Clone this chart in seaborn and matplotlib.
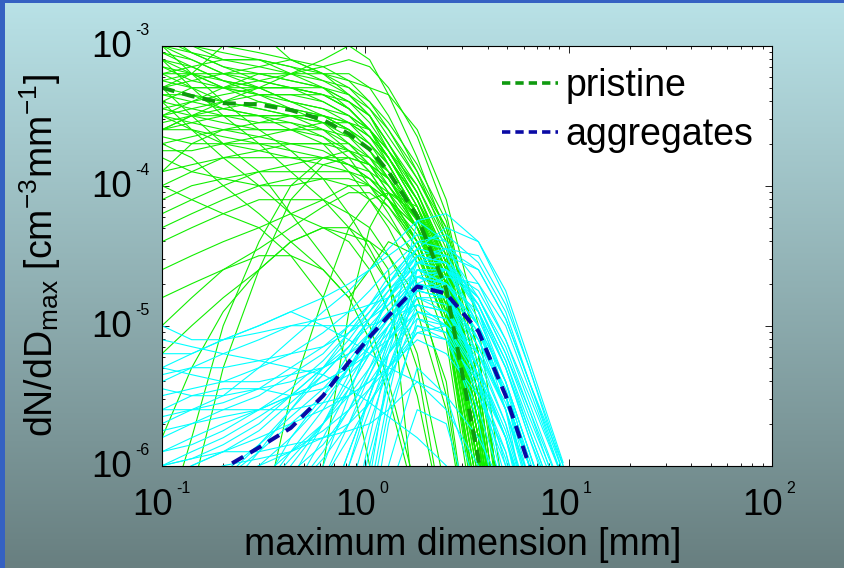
import numpy as np
import pandas as pd
import seaborn as sns
import matplotlib.pyplot as plt
from matplotlib.lines import Line2D
from matplotlib.patches import Rectangle

# bin centres of maximum dimension [mm]
dmax = [0.1, 0.14, 0.2, 0.3, 0.43, 0.62, 0.83, 1.05, 1.3, 1.8, 2.5, 3.6, 4.9, 6.4, 9.4]

# log10(dN/dDmax) of single spectra (below -6 is off the axes)
pristine_log = [
    [-3.0, -3.1, -3.2, -3.25, -3.3, -3.35, -3.45, -3.6, -3.8, -4.1, -4.5, -5.6, -7, -9, -9],
    [-3.1, -3.15, -3.25, -3.3, -3.3, -3.4, -3.5, -3.65, -3.85, -4.2, -4.7, -5.9, -7.5, -9, -9],
    [-2.9, -3.05, -3.15, -3.2, -3.25, -3.3, -3.4, -3.5, -3.7, -4.0, -4.4, -5.4, -6.8, -9, -9],
    [-3.2, -3.3, -3.4, -3.45, -3.5, -3.55, -3.65, -3.8, -4.0, -4.3, -4.9, -6.2, -8, -9, -9],
    [-3.4, -3.45, -3.5, -3.55, -3.55, -3.6, -3.7, -3.85, -4.05, -4.4, -4.95, -6.4, -8, -9, -9],
    [-3.6, -3.6, -3.65, -3.7, -3.7, -3.75, -3.85, -3.95, -4.1, -4.35, -4.8, -6.0, -7.5, -9, -9],
    [-3.3, -3.25, -3.2, -3.15, -3.1, -3.15, -3.25, -3.4, -3.6, -3.95, -4.3, -5.2, -6.5, -9, -9],
    [-3.0, -2.95, -3.0, -3.05, -3.1, -3.2, -3.35, -3.5, -3.75, -4.1, -4.6, -5.8, -7.2, -9, -9],
    [-3.5, -3.6, -3.7, -3.75, -3.8, -3.85, -3.9, -4.0, -4.15, -4.45, -5.0, -6.5, -8, -9, -9],
    [-3.8, -3.9, -3.95, -4.0, -4.0, -3.95, -3.95, -4.0, -4.1, -4.3, -4.7, -5.7, -7, -9, -9],
    [-4.2, -4.1, -4.0, -3.9, -3.85, -3.8, -3.8, -3.85, -3.95, -4.2, -4.6, -5.6, -7, -9, -9],
    [-4.6, -4.5, -4.4, -4.3, -4.2, -4.1, -4.0, -4.0, -4.1, -4.3, -4.7, -5.8, -7.2, -9, -9],
    [-5.0, -4.8, -4.6, -4.45, -4.3, -4.15, -4.05, -4.05, -4.15, -4.4, -4.85, -6.0, -7.5, -9, -9],
    [-3.1, -3.3, -3.5, -3.7, -3.9, -4.1, -4.3, -4.5, -4.7, -5.2, -6.2, -8, -9, -9, -9],
    [-3.3, -3.5, -3.7, -3.9, -4.2, -4.5, -4.75, -5.0, -5.4, -6.2, -8, -9, -9, -9, -9],
    [-3.0, -3.2, -3.4, -3.6, -3.75, -3.95, -4.2, -4.45, -4.7, -5.3, -6.5, -9, -9, -9, -9],
    [-3.7, -3.8, -4.0, -4.2, -4.4, -4.6, -4.8, -4.6, -4.4, -4.5, -5.0, -6.3, -8, -9, -9],
    [-6.5, -5.8, -5.0, -4.4, -4.0, -3.8, -3.75, -3.8, -3.9, -4.2, -4.65, -5.8, -7.2, -9, -9],
    [-7.0, -6.2, -5.3, -4.6, -4.1, -3.85, -3.8, -3.85, -3.95, -4.25, -4.7, -5.9, -7.5, -9, -9],
    [-5.2, -5.0, -4.8, -4.6, -4.4, -4.3, -4.4, -4.6, -4.9, -5.5, -6.5, -8, -9, -9, -9],
    [-4.8, -4.7, -4.6, -4.5, -4.5, -4.6, -4.8, -5.1, -5.5, -6.3, -8, -9, -9, -9, -9],
    [-4.0, -4.1, -4.2, -4.3, -4.5, -4.8, -5.3, -6.0, -7, -8, -9, -9, -9, -9, -9],
    [-8, -8, -7, -6.5, -5.5, -4.8, -4.3, -4.1, -4.05, -4.2, -4.6, -5.6, -7, -9, -9],
    [-9, -9, -9, -8, -7, -6.0, -4.9, -4.3, -4.05, -4.15, -4.55, -5.5, -7, -9, -9],
    [-3.5, -3.45, -3.4, -3.35, -3.35, -3.35, -3.4, -3.5, -3.7, -4.05, -4.5, -5.5, -7, -9, -9],
    [-3.2, -3.2, -3.2, -3.2, -3.25, -3.3, -3.4, -3.55, -3.75, -4.1, -4.55, -5.7, -7.2, -9, -9],
    [-2.95, -3.0, -3.1, -3.1, -3.15, -3.2, -3.3, -3.45, -3.65, -3.95, -4.35, -5.3, -6.6, -9, -9],
    [-4.4, -4.3, -4.2, -4.1, -4.1, -4.1, -4.2, -4.3, -4.5, -4.9, -5.6, -7, -9, -9, -9],
    [-3.4, -3.6, -3.8, -4.0, -4.2, -4.3, -4.35, -4.4, -4.5, -4.8, -5.4, -7, -9, -9, -9],
    [-3.9, -3.7, -3.6, -3.55, -3.5, -3.5, -3.55, -3.65, -3.8, -4.1, -4.55, -5.6, -7, -9, -9],
    [-5.8, -5.3, -4.9, -4.6, -4.4, -4.3, -4.3, -4.4, -4.6, -6.5, -8, -9, -9, -9, -9],
    [-3.6, -3.5, -3.5, -3.5, -3.6, -3.7, -3.9, -4.1, -4.3, -4.7, -5.5, -7, -9, -9, -9],
    [-3.3, -3.2, -3.0, -2.9, -3.1, -3.2, -3.2, -3.3, -3.5, -3.9, -4.3, -5.2, -6.5, -9, -9],
    [-3.4, -3.3, -3.3, -3.2, -3.2, -3.2, -3.25, -3.3, -3.35, -3.6, -4.1, -5.0, -6.3, -9, -9],
    [-3.15, -3.2, -3.3, -3.35, -3.35, -3.4, -3.5, -3.6, -3.8, -4.15, -4.65, -5.8, -7.2, -9, -9],
    [-3.45, -3.4, -3.45, -3.5, -3.5, -3.55, -3.6, -3.75, -3.95, -4.25, -4.7, -5.9, -7.4, -9, -9],
    [-3.05, -3.15, -3.25, -3.35, -3.45, -3.55, -3.7, -3.85, -4.05, -4.4, -4.95, -6.3, -8, -9, -9],
    [-3.7, -3.65, -3.6, -3.6, -3.6, -3.65, -3.75, -3.9, -4.1, -4.4, -4.85, -6.1, -7.6, -9, -9],
    [-4.0, -3.9, -3.8, -3.75, -3.7, -3.7, -3.75, -3.85, -4.0, -4.3, -4.75, -5.9, -7.3, -9, -9],
    [-2.9, -3.0, -3.05, -3.1, -3.2, -3.3, -3.45, -3.6, -3.85, -4.2, -4.7, -6.0, -7.6, -9, -9],
    [-3.25, -3.3, -3.3, -3.35, -3.4, -3.45, -3.55, -3.7, -3.9, -4.25, -4.8, -6.0, -7.5, -9, -9],
    [-3.35, -3.4, -3.35, -3.3, -3.3, -3.35, -3.45, -3.6, -3.8, -4.15, -4.6, -5.7, -7.2, -9, -9],
    [-3.55, -3.5, -3.45, -3.4, -3.45, -3.5, -3.6, -3.7, -3.85, -4.2, -4.75, -6.1, -7.8, -9, -9],
    [-3.1, -3.2, -3.3, -3.4, -3.45, -3.5, -3.6, -3.75, -3.95, -4.3, -4.85, -6.2, -8, -9, -9],
    [-3.0, -3.05, -3.15, -3.25, -3.3, -3.35, -3.45, -3.6, -3.8, -4.15, -4.7, -6.0, -7.5, -9, -9],
    [-3.45, -3.5, -3.55, -3.6, -3.6, -3.6, -3.65, -3.75, -3.9, -4.2, -4.6, -5.7, -7.1, -9, -9],
    [-3.65, -3.7, -3.7, -3.65, -3.6, -3.55, -3.55, -3.65, -3.8, -4.1, -4.55, -5.6, -7.0, -9, -9],
    [-3.2, -3.15, -3.1, -3.1, -3.15, -3.25, -3.35, -3.5, -3.7, -4.05, -4.55, -5.7, -7.1, -9, -9],
    [-3.05, -3.1, -3.2, -3.3, -3.4, -3.45, -3.5, -3.6, -3.75, -4.05, -4.5, -5.5, -6.9, -9, -9],
    [-3.35, -3.35, -3.4, -3.45, -3.5, -3.6, -3.75, -3.9, -4.1, -4.45, -5.0, -6.4, -8, -9, -9],
    [-3.75, -3.75, -3.7, -3.7, -3.75, -3.8, -3.85, -3.9, -4.0, -4.25, -4.65, -5.8, -7.3, -9, -9],
    [-3.9, -3.85, -3.8, -3.8, -3.8, -3.8, -3.85, -3.95, -4.1, -4.4, -4.9, -6.2, -7.8, -9, -9],
    [-3.15, -3.25, -3.3, -3.3, -3.3, -3.3, -3.35, -3.45, -3.6, -3.9, -4.4, -5.4, -6.8, -9, -9],
    [-3.3, -3.35, -3.45, -3.5, -3.55, -3.65, -3.8, -4.0, -4.2, -4.55, -5.1, -6.6, -8, -9, -9],
    [-2.95, -3.05, -3.1, -3.15, -3.2, -3.25, -3.3, -3.4, -3.55, -3.85, -4.25, -5.2, -6.5, -9, -9],
    [-3.5, -3.55, -3.6, -3.65, -3.7, -3.7, -3.7, -3.8, -3.95, -4.3, -4.8, -6.0, -7.5, -9, -9],
    [-4.1, -4.0, -3.95, -3.9, -3.9, -3.9, -3.9, -3.95, -4.05, -4.3, -4.7, -5.8, -7.2, -9, -9],
    [-3.25, -3.2, -3.25, -3.3, -3.4, -3.5, -3.6, -3.7, -3.85, -4.2, -4.7, -5.9, -7.4, -9, -9],
    [-4.3, -4.2, -4.1, -4.0, -3.95, -3.95, -4.0, -4.1, -4.25, -4.5, -4.9, -6.0, -7.5, -9, -9],
    [-3.6, -3.55, -3.5, -3.5, -3.5, -3.5, -3.55, -3.6, -3.75, -4.0, -4.45, -5.5, -6.9, -9, -9],
    [-3.5, -3.4, -3.3, -3.25, -3.2, -3.15, -3.1, -3.15, -3.3, -3.65, -4.2, -5.2, -6.6, -9, -9],
    [-3.6, -3.5, -3.4, -3.3, -3.2, -3.1, -3.0, -3.1, -3.35, -3.8, -4.35, -5.4, -6.8, -9, -9],
]

aggregates_log = [
    [-5.2, -5.2, -5.1, -5.0, -4.9, -4.8, -4.7, -4.6, -4.5, -4.35, -4.4, -4.7, -5.1, -5.5, -6.1],
    [-5.5, -5.45, -5.4, -5.3, -5.2, -5.05, -4.9, -4.75, -4.6, -4.4, -4.45, -4.8, -5.2, -5.6, -6.2],
    [-5.8, -5.7, -5.6, -5.5, -5.35, -5.2, -5.0, -4.85, -4.7, -4.5, -4.55, -4.9, -5.3, -5.8, -6.4],
    [-6.0, -5.9, -5.8, -5.65, -5.5, -5.3, -5.15, -5.0, -4.85, -4.6, -4.6, -4.85, -5.25, -5.7, -6.3],
    [-5.3, -5.35, -5.4, -5.4, -5.35, -5.3, -5.2, -5.1, -4.95, -4.75, -4.8, -5.1, -5.5, -6.0, -6.8],
    [-5.6, -5.5, -5.45, -5.45, -5.5, -5.45, -5.35, -5.2, -5.05, -4.8, -4.9, -5.2, -5.6, -6.1, -7],
    [-6.5, -6.3, -6.1, -5.9, -5.7, -5.5, -5.3, -5.1, -4.9, -4.65, -4.7, -5.0, -5.4, -5.9, -6.6],
    [-7, -7, -6.8, -6.5, -6.2, -5.9, -5.6, -5.3, -5.0, -4.7, -4.8, -5.2, -5.7, -6.3, -7.2],
    [-8, -8, -8, -7.5, -7, -6.5, -6.0, -5.6, -5.2, -4.8, -4.85, -5.3, -5.8, -6.5, -7.5],
    [-8, -8, -8, -8, -7.5, -7, -6.5, -5.9, -5.4, -4.9, -5.0, -5.5, -6.0, -6.8, -8],
    [-8, -8, -8, -8, -8, -7.5, -7, -6.3, -5.6, -5.0, -5.1, -5.6, -6.2, -7, -8],
    [-6.2, -6.0, -5.9, -5.8, -5.7, -5.6, -5.5, -5.4, -5.3, -5.1, -5.2, -5.5, -5.9, -6.5, -7.5],
    [-5.1, -5.15, -5.2, -5.25, -5.3, -5.35, -5.45, -5.55, -5.65, -5.8, -6.0, -6.5, -7, -8, -9],
    [-5.7, -5.6, -5.5, -5.3, -5.1, -4.9, -4.75, -4.6, -4.45, -4.25, -4.2, -4.4, -4.8, -5.3, -6.0],
    [-6.8, -6.5, -6.2, -5.9, -5.6, -5.3, -5.05, -4.85, -4.65, -4.45, -4.3, -4.4, -4.75, -5.25, -5.98],
    [-7, -6.8, -6.5, -6.2, -5.9, -5.6, -5.3, -5.05, -4.8, -4.55, -4.5, -4.6, -4.95, -5.4, -6.1],
    [-5.4, -5.3, -5.2, -5.1, -5.0, -4.95, -4.9, -4.85, -4.8, -4.6, -4.7, -5.0, -5.5, -6.0, -6.8],
    [-6.0, -5.95, -5.9, -5.9, -5.85, -5.8, -5.7, -5.55, -5.35, -5.05, -5.1, -5.4, -5.8, -6.3, -7.2],
    [-8, -8, -7.5, -7, -6.5, -6.0, -5.5, -5.1, -4.8, -4.45, -4.5, -4.9, -5.4, -6.0, -6.8],
    [-8, -8, -8, -8, -8, -8, -7.5, -6.8, -6.0, -5.3, -5.5, -6.2, -7, -8, -9],
    [-8, -8, -8, -8, -8, -7.5, -6.8, -6.0, -5.4, -4.6, -4.7, -5.4, -6.2, -7, -8],
    [-5.9, -5.8, -5.7, -5.6, -5.5, -5.4, -5.3, -5.2, -5.1, -4.9, -4.95, -5.3, -5.75, -6.3, -7.3],
    [-6.4, -6.3, -6.2, -6.0, -5.8, -5.55, -5.3, -5.1, -4.95, -4.7, -4.75, -5.15, -5.6, -6.15, -7.0],
    [-5.0, -5.1, -5.1, -5.0, -4.9, -5.0, -5.1, -5.2, -5.3, -5.4, -5.6, -6.0, -6.6, -7.3, -8.5],
    [-6.2, -6.1, -6.0, -5.95, -5.9, -5.8, -5.75, -5.7, -5.6, -5.4, -5.5, -5.8, -6.2, -6.8, -8],
    [-7.5, -7, -6.6, -6.2, -5.8, -5.5, -5.2, -4.95, -4.75, -4.5, -4.55, -4.85, -5.25, -5.75, -6.4],
    [-6.6, -6.4, -6.1, -5.85, -5.6, -5.35, -5.15, -4.95, -4.8, -4.55, -4.45, -4.5, -4.85, -5.3, -6.05],
    [-8, -8, -8, -8, -7.8, -7.2, -6.5, -5.8, -5.2, -4.5, -4.55, -5.0, -5.6, -6.4, -7.5],
    [-5.6, -5.6, -5.6, -5.6, -5.6, -5.55, -5.5, -5.4, -5.2, -4.95, -5.0, -5.35, -5.8, -6.4, -7.4],
    [-7.5, -7.3, -7.0, -6.6, -6.2, -5.8, -5.45, -5.2, -5.0, -4.75, -4.65, -4.7, -5.0, -5.45, -6.1],
    [-5.3, -5.2, -5.1, -5.05, -5.0, -5.0, -5.0, -5.0, -4.95, -4.85, -5.0, -5.4, -5.9, -6.6, -8],
    [-8, -8, -8, -8, -8, -8, -8, -7.2, -6.2, -5.6, -5.7, -6.5, -7.5, -8.5, -9],
    [-9, -9, -9, -8, -7, -6.4, -5.9, -5.5, -5.1, -4.25, -4.4, -4.9, -5.5, -6.2, -7.2],
    [-5.9, -5.85, -5.75, -5.6, -5.45, -5.25, -5.05, -4.9, -4.75, -4.55, -4.6, -4.95, -5.4, -5.9, -6.7],
    [-6.3, -6.2, -6.05, -5.85, -5.65, -5.45, -5.25, -5.05, -4.9, -4.65, -4.6, -4.8, -5.15, -5.6, -6.3],
    [-5.45, -5.5, -5.5, -5.45, -5.4, -5.3, -5.2, -5.05, -4.9, -4.7, -4.75, -5.05, -5.45, -5.95, -6.8],
    [-8, -8, -7.6, -7.1, -6.6, -6.1, -5.7, -5.35, -5.05, -4.6, -4.65, -5.1, -5.6, -6.2, -7.0],
    [-6.7, -6.5, -6.3, -6.1, -5.9, -5.7, -5.5, -5.3, -5.1, -4.85, -4.9, -5.25, -5.7, -6.25, -7.1],
    [-5.65, -5.6, -5.55, -5.45, -5.3, -5.15, -5.0, -4.85, -4.7, -4.45, -4.5, -4.85, -5.3, -5.8, -6.5],
    [-6.1, -6.0, -5.9, -5.75, -5.55, -5.35, -5.15, -4.95, -4.8, -4.55, -4.55, -4.8, -5.2, -5.65, -6.25],
    [-8, -7.5, -7, -6.5, -6.1, -5.7, -5.35, -5.05, -4.8, -4.5, -4.45, -4.6, -4.95, -5.4, -6.05],
    [-7.2, -6.9, -6.6, -6.3, -6.0, -5.7, -5.4, -5.15, -4.95, -4.65, -4.7, -5.05, -5.5, -6.0, -6.8],
    [-8, -8, -8, -7.8, -7.2, -6.6, -6.0, -5.5, -5.1, -4.55, -4.6, -5.0, -5.5, -6.1, -7.0],
    [-8, -8, -8, -8, -8, -7.6, -6.9, -6.1, -5.3, -4.75, -4.8, -5.3, -6.0, -6.8, -8],
    [-9, -9, -9, -9, -8.5, -8, -7.3, -6.5, -5.7, -4.95, -5.05, -5.7, -6.5, -7.5, -8.5],
    [-5.75, -5.7, -5.65, -5.6, -5.5, -5.4, -5.3, -5.15, -5.0, -4.75, -4.8, -5.15, -5.6, -6.1, -7.0],
    [-6.5, -6.4, -6.3, -6.2, -6.05, -5.85, -5.6, -5.35, -5.1, -4.8, -4.8, -5.1, -5.5, -6.0, -6.7],
    [-7, -6.8, -6.6, -6.4, -6.2, -5.95, -5.7, -5.45, -5.2, -4.9, -4.95, -5.35, -5.8, -6.35, -7.3],
    [-8, -8, -7.8, -7.4, -6.9, -6.4, -5.9, -5.5, -5.15, -4.7, -4.6, -4.75, -5.1, -5.55, -6.2],
    [-6.0, -5.95, -5.85, -5.7, -5.5, -5.3, -5.1, -4.9, -4.7, -4.4, -4.35, -4.55, -4.9, -5.4, -6.0],
    [-5.35, -5.3, -5.3, -5.25, -5.2, -5.15, -5.05, -4.95, -4.85, -4.65, -4.7, -5.0, -5.4, -5.9, -6.6],
    [-8, -8, -8, -8, -7.5, -6.8, -6.2, -5.7, -5.3, -4.85, -4.9, -5.3, -5.8, -6.4, -7.3],
    [-9, -9, -9, -8.5, -8, -7.5, -7, -6.2, -5.5, -4.65, -4.75, -5.4, -6.1, -7, -8],
    [-6.9, -6.7, -6.45, -6.2, -5.95, -5.7, -5.45, -5.2, -5.0, -4.75, -4.7, -4.9, -5.3, -5.75, -6.4],
    [-6.3, -6.2, -6.1, -6.0, -5.9, -5.75, -5.6, -5.45, -5.3, -5.05, -5.0, -5.2, -5.55, -6.0, -6.8],
    [-7.8, -7.4, -7.0, -6.7, -6.4, -6.1, -5.8, -5.55, -5.3, -5.0, -5.05, -5.45, -5.95, -6.6, -7.6],
]

pristine_mean_log = [-3.30, -3.36, -3.41, -3.42, -3.46, -3.53, -3.63, -3.74, -3.90, -4.22,
                     -4.74, -5.95, -8.0, -9.0, -9.0]
aggregates_mean_log = [-6.8, -6.4, -6.02, -5.87, -5.73, -5.50, -5.26, -5.08, -4.93, -4.72,
                       -4.77, -5.04, -5.50, -6.0, -7.0]

labels = ['pristine', 'aggregates']


def to_long(rows):
    recs = []
    for i, row in enumerate(rows):
        for d, v in zip(dmax, row):
            recs.append((i, d, 10.0 ** v))
    return pd.DataFrame(recs, columns=['line', 'D', 'N'])


sns.set_style('white')
plt.rcParams['font.family'] = ['Liberation Sans', 'DejaVu Sans']
plt.rcParams['text.color'] = 'black'
plt.rcParams['axes.labelcolor'] = 'black'
plt.rcParams['mathtext.fontset'] = 'custom'
plt.rcParams['mathtext.rm'] = 'Liberation Sans'
plt.rcParams['mathtext.it'] = 'Liberation Sans:italic'
plt.rcParams['mathtext.default'] = 'regular'

fig = plt.figure(figsize=(8.45, 5.68), dpi=100)
fig.patch.set_alpha(0)

# slide background: vertical gradient + blue edge
bg = fig.add_axes([0, 0, 1, 1])
bg.set_zorder(-5)
top = np.array([185, 226, 231]) / 255
bot = np.array([104, 127, 128]) / 255
t = np.linspace(0, 1, 256)[:, None, None]
grad = top * (1 - t) + bot * t
bg.imshow(grad, aspect='auto', extent=[0, 1, 0, 1])
bg.axis('off')
fig.add_artist(Rectangle((0, 0), 5 / 845, 1, transform=fig.transFigure, color='#3561c2', lw=0))
fig.add_artist(Rectangle((0, 1 - 3 / 568), 1, 3 / 568, transform=fig.transFigure, color='#3561c2', lw=0))

ax = fig.add_axes([162 / 845, 1 - 465.7 / 568, 610 / 845, 420 / 568])
ax.set_facecolor('white')
ax.set_xscale('log')
ax.set_yscale('log')

sns.lineplot(data=to_long(pristine_log), x='D', y='N', units='line', estimator=None,
             color='#11ee00', linewidth=0.8, legend=False, ax=ax)
sns.lineplot(data=to_long(aggregates_log), x='D', y='N', units='line', estimator=None,
             color='#00ffff', linewidth=0.8, legend=False, ax=ax)

green_mean = '#0f9a0f'
blue_mean = '#0a0aa5'
sns.lineplot(x=dmax, y=10.0 ** np.array(pristine_mean_log), color=green_mean, linewidth=2.9,
             linestyle=(0, (3.2, 2.0)), ax=ax)
sns.lineplot(x=dmax, y=10.0 ** np.array(aggregates_mean_log), color=blue_mean, linewidth=2.9,
             linestyle=(0, (3.2, 2.0)), ax=ax)

ax.set_xlim(0.1, 100)
ax.set_ylim(1e-6, 1e-3)
ax.set_xlabel('')
ax.set_ylabel('')
for s in ax.spines.values():
    s.set_color('black')
    s.set_linewidth(0.8)
    s.set_visible(True)
ax.tick_params(which='both', direction='in', top=True, right=True, bottom=True, left=True,
               labelbottom=False, labelleft=False, color='black', width=0.6)
ax.tick_params(which='major', length=5)
ax.tick_params(which='minor', length=2.5)

# MATLAB-style tick labels: big "10" with small exponent
for v in [0.1, 1, 10, 100]:
    e = int(round(np.log10(v)))
    ax.annotate('10', xy=(v, 0), xycoords=('data', 'axes fraction'), xytext=(11, -49),
                textcoords='offset pixels', ha='right', va='baseline', fontsize=26.5,
                annotation_clip=False)
    ax.annotate(str(e), xy=(v, 0), xycoords=('data', 'axes fraction'), xytext=(14, -27),
                textcoords='offset pixels', ha='left', va='baseline', fontsize=11.5,
                annotation_clip=False)
for v in [1e-3, 1e-4, 1e-5, 1e-6]:
    e = int(round(np.log10(v)))
    ax.annotate('10', xy=(0, v), xycoords=('axes fraction', 'data'), xytext=(-30, -11),
                textcoords='offset pixels', ha='right', va='baseline', fontsize=26.5,
                annotation_clip=False)
    ax.annotate(str(e), xy=(0, v), xycoords=('axes fraction', 'data'), xytext=(-27, 11),
                textcoords='offset pixels', ha='left', va='baseline', fontsize=11.5,
                annotation_clip=False)

fig.text(463 / 845, 1 - 555 / 568, 'maximum dimension [mm]', ha='center', va='baseline',
         fontsize=27)
fig.text(53 / 845, 1 - 255.7 / 568, r'dN/dD$_{max}$ [cm$^{-3}$mm$^{-1}$]', rotation=90,
         rotation_mode='anchor', ha='center', va='baseline', fontsize=27)

handles = [Line2D([], [], color=green_mean, lw=2.6, linestyle=(0, (2.3, 1.4))),
           Line2D([], [], color=blue_mean, lw=2.6, linestyle=(0, (2.3, 1.4)))]
ax.legend(handles, labels, loc='upper left', bbox_to_anchor=(0.557, 0.947), frameon=False,
          fontsize=27, handlelength=1.49, handletextpad=0.21, borderpad=0, borderaxespad=0,
          labelspacing=0.34)

fig.savefig('out.png', dpi=100)
